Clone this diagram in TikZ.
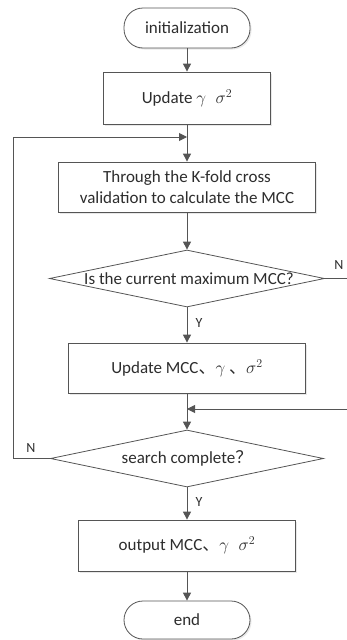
\documentclass[tikz,border=0pt]{standalone}
\usepackage{fontspec}
\setmainfont{Carlito}
\newfontfamily\cjk{Noto Sans CJK SC}
\usetikzlibrary{arrows.meta,shapes.geometric,shadows}
\definecolor{lncol}{RGB}{85,85,85}
\definecolor{txtcol}{RGB}{45,45,45}
\begin{document}
\begin{tikzpicture}[x=1pt,y=-1pt,
  every node/.style={text=txtcol,font=\fontsize{17}{21}\selectfont},
  term/.style={draw=lncol,line width=0.8pt,rectangle,rounded corners=19pt,inner sep=0pt,fill=white,
     drop shadow={opacity=0.18,shadow xshift=1.5pt,shadow yshift=-1.5pt}},
  procbox/.style={draw=lncol,line width=0.8pt,rectangle,inner sep=0pt,fill=white,align=center,
     drop shadow={opacity=0.18,shadow xshift=1.5pt,shadow yshift=-1.5pt}},
  decision/.style={draw=lncol,line width=0.8pt,diamond,inner sep=0pt,fill=white},
  flow/.style={draw=lncol,line width=1pt,-{Triangle[length=8pt,width=8pt]}},
  plain/.style={draw=lncol,line width=1pt},
  lbl/.style={font=\fontsize{14}{16}\selectfont}
]
\useasboundingbox (0,0) rectangle (347,640);
\node[term,minimum width=126pt,minimum height=40pt] (init) at (187,28) {initialization};
\node[procbox,minimum width=167pt,minimum height=52pt] (b1) at (187,98) {Update $\gamma\;\;\sigma^{2}$};
\coordinate (j1) at (187,137);
\node[procbox,minimum width=257pt,minimum height=50pt] (b2) at (187,187) {Through the K-fold cross\\validation to calculate the MCC};
\node[decision,minimum width=275pt,minimum height=57pt] (d1) at (187,278.5) {};
\node (t1) at (189,278.5) {Is the current maximum MCC?};
\node[procbox,minimum width=237pt,minimum height=50pt] (b3) at (187,368) {Update MCC{\cjk 、}$\gamma$ {\cjk 、}$\sigma^{2}$};
\coordinate (j2) at (187,409);
\node[decision,minimum width=273pt,minimum height=57pt] (d2) at (187,458.5) {};
\node (t2) at (187,458.5) {search complete{\cjk ？}};
\node[procbox,minimum width=217pt,minimum height=51pt] (b4) at (187,545.5) {output MCC{\cjk 、}$\gamma\;\;\sigma^{2}$};
\node[term,minimum width=126pt,minimum height=38pt] (end) at (187,620) {end};
\coordinate (rout) at (347,278.5);
\coordinate (rin) at (347,409);
\coordinate (lc1) at (13,458.5);
\coordinate (lc2) at (13,137);

\draw[flow] (init) -- (b1);
\draw[plain] (b1) -- (j1);
\draw[flow] (j1) -- (b2);
\draw[flow] (b2) -- (d1);
\draw[flow] (d1) -- (b3);
\draw[plain] (b3) -- (j2);
\draw[flow] (j2) -- (d2);
\draw[flow] (d2) -- (b4);
\draw[flow] (b4) -- (end);
\draw[plain] (d1.east) -- (rout);
\draw[flow] (rin) -- (j2);
\draw[flow] (d2.west) -- (lc1) -- (lc2) -- (j1);

\node[lbl] (n1) at (339,265) {N};
\node[lbl] (y1) at (199,323) {Y};
\node[lbl] (n2) at (31,448) {N};
\node[lbl] (y2) at (199,502) {Y};
\end{tikzpicture}
\end{document}
